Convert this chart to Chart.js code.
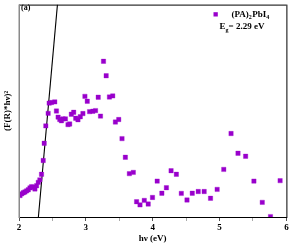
<!DOCTYPE html>
<html>
<head>
<meta charset="utf-8">
<script src="https://cdn.jsdelivr.net/npm/chart.js@4"></script>
<style>
html,body{margin:0;padding:0;background:#fff;}
#wrap{width:291px;height:245px;position:relative;}
</style>
</head>
<body>
<div id="wrap"><canvas id="c" width="291" height="245"></canvas></div>
<script>
// photon energy hν (eV)
const hvValues = [2.015,2.04,2.064,2.089,2.114,2.139,2.164,2.188,2.213,2.238,2.263,2.288,2.312,2.337,2.362,2.377,2.401,2.436,2.451,2.486,2.535,2.56,2.585,2.61,2.635,2.659,2.694,2.733,2.758,2.783,2.818,2.848,2.882,2.917,2.956,2.986,3.021,3.056,3.105,3.145,3.185,3.219,3.264,3.304,3.353,3.402,3.442,3.492,3.541,3.591,3.651,3.710,3.759,3.810,3.874,3.933,3.997,4.067,4.137,4.205,4.275,4.354,4.428,4.513,4.592,4.681,4.770,4.865,4.964,5.063,5.172,5.276,5.390,5.514,5.639,5.762,5.906];
// (F(R)*hν)^2, arbitrary units
const kmValues = [1.01,1.09,1.14,1.18,1.23,1.28,1.37,1.43,1.40,1.32,1.47,1.63,1.75,2.01,2.66,3.47,4.29,4.88,5.36,5.39,5.42,4.99,4.70,4.59,4.53,4.62,4.62,4.35,4.38,4.84,4.93,4.65,4.58,4.72,4.87,5.68,5.45,4.96,4.98,5.01,5.64,4.75,7.33,6.65,5.65,5.70,4.47,4.59,3.69,2.81,2.04,2.10,0.72,0.57,0.78,0.61,0.92,1.69,1.12,1.38,2.18,2.01,1.11,0.80,1.12,1.20,1.20,0.88,1.30,2.24,3.93,3.00,2.86,1.69,0.69,0.02,1.71];
// linear (Tauc) fit line
const fitX = [2.29, 2.575];
const fitY = [0, 10];
const xTickValues = [2, 3, 4, 5, 6];
const seriesLabel = ['(PA)', '2', 'PbI', '4'];
const gapLabel = ['E', 'g', '= 2.29 eV'];
const panelLabel = '(a)';

const SERIF = '"Liberation Serif", "Times New Roman", serif';
const PURPLE = '#9900cc';

const overlay = {
  id: 'overlay',
  afterDatasetsDraw(chart) {
    const {ctx, chartArea: a} = chart;
    ctx.save();
    // frame
    ctx.strokeStyle = '#000';
    ctx.lineWidth = 1;
    ctx.beginPath();
    ctx.moveTo(a.left, a.top + 0.5); ctx.lineTo(a.right, a.top + 0.5);
    ctx.moveTo(a.right + 0.5, a.top); ctx.lineTo(a.right + 0.5, a.bottom);
    ctx.moveTo(a.left, a.bottom + 0.5); ctx.lineTo(a.right + 1, a.bottom + 0.5);
    ctx.stroke();
    ctx.strokeStyle = '#8a8a8a';
    ctx.lineWidth = 1.5;
    ctx.beginPath();
    ctx.moveTo(a.left + 0.25, a.top); ctx.lineTo(a.left + 0.25, a.bottom + 1);
    ctx.stroke();

    // panel label
    ctx.fillStyle = '#000';
    ctx.textBaseline = 'alphabetic';
    ctx.font = 'bold 8px ' + SERIF;
    ctx.fillText(panelLabel, a.left + 2, 10);

    // legend marker
    ctx.fillStyle = PURPLE;
    ctx.fillRect(213.5, 12.2, 4.3, 4.3);

    // legend text with subscripts
    ctx.fillStyle = '#000';
    let x = 231.5;
    const big = 'bold 9px ' + SERIF, small = 'bold 6px ' + SERIF;
    seriesLabel.forEach((t, i) => {
      const sub = i % 2 === 1;
      ctx.font = sub ? small : big;
      ctx.fillText(t, x, sub ? 19 : 16.8);
      x += ctx.measureText(t).width + (sub ? 0.5 : 0);
    });
    x = 219.5;
    gapLabel.forEach((t, i) => {
      const sub = i === 1;
      ctx.font = sub ? small : big;
      ctx.fillText(t, x, sub ? 31.5 : 29.3);
      x += ctx.measureText(t).width;
    });
    ctx.restore();
  }
};

new Chart(document.getElementById('c'), {
  type: 'scatter',
  data: {
    datasets: [
      {
        label: 'data',
        data: hvValues.map((v, i) => ({x: v, y: kmValues[i]})),
        pointStyle: 'rect',
        pointRadius: 3.1,
        pointBorderWidth: 0.6,
        backgroundColor: PURPLE,
        borderColor: 'rgba(153,0,204,0.55)',
        clip: 0
      },
      {
        label: 'fit',
        type: 'line',
        data: fitX.map((v, i) => ({x: v, y: fitY[i]})),
        borderColor: '#000',
        borderWidth: 1.1,
        pointRadius: 0,
        fill: false,
        clip: 0
      }
    ]
  },
  options: {
    responsive: false,
    animation: false,
    devicePixelRatio: 1,
    layout: {padding: {top: 0, right: 3, left: 0, bottom: 0}},
    plugins: {legend: {display: false}, tooltip: {enabled: false}},
    scales: {
      x: {
        type: 'linear',
        min: 2, max: 6,
        afterBuildTicks(s) {
          const t = [];
          for (let v = 2; v <= 6.001; v += 0.5) t.push({value: Math.round(v * 10) / 10});
          s.ticks = t;
        },
        afterFit(s) { s.height = 28; },
        ticks: {
          autoSkip: false,
          maxRotation: 0,
          padding: 1,
          color: '#000',
          font: {family: SERIF, size: 9, weight: 'bold'},
          callback: (v) => xTickValues.includes(v) ? String(v) : ''
        },
        grid: {
          drawOnChartArea: false,
          drawTicks: true,
          tickLength: 4,
          tickColor: (c) => (c.tick && Number.isInteger(c.tick.value)) ? '#555' : '#aaa'
        },
        border: {display: false},
        title: {
          display: true,
          text: 'hν (eV)',
          color: '#000',
          font: {family: SERIF, size: 9, weight: 'bold'},
          padding: {top: 0, bottom: 0.5}
        }
      },
      y: {
        min: 0, max: 10,
        afterFit(s) { s.width = 19; },
        ticks: {display: false},
        grid: {display: false},
        border: {display: false},
        title: {
          display: true,
          text: '(F(R)*hν)²',
          color: '#000',
          font: {family: SERIF, size: 9, weight: 'bold'},
          padding: {top: 2, bottom: 0}
        }
      }
    }
  },
  plugins: [overlay]
});
</script>
</body>
</html>
